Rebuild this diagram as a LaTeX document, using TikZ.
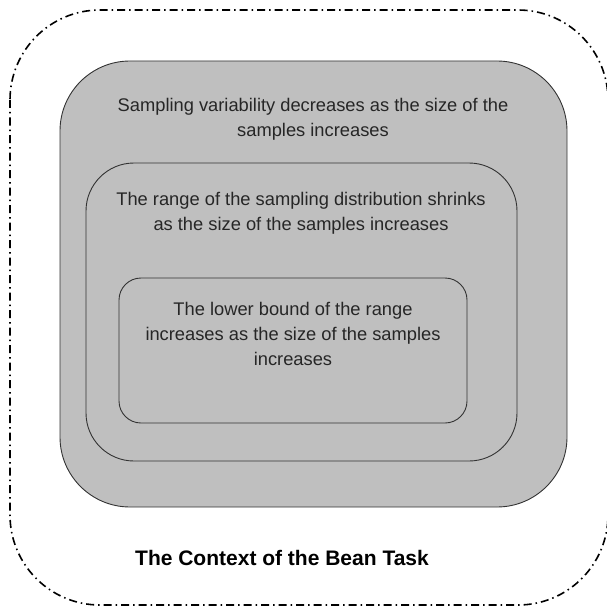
\documentclass[tikz,border=0pt]{standalone}
\usepackage{fontspec}
\setmainfont{Liberation Sans}
\begin{document}
\begin{tikzpicture}[x=1pt,y=-1pt,
  box/.style={draw=black!80, line width=0.9pt},
  txt/.style={align=center, text=black!85, font=\fontsize{18.3}{25}\selectfont, inner sep=0pt},
  ]
\useasboundingbox (0,0) rectangle (606,607);
% outer context
\draw[line width=1.6pt, dash pattern=on 8pt off 4pt on 1.5pt off 4pt, rounded corners=90pt]
  (10,10) rectangle (608,605);
% boxes
\draw[box, fill=black!25, rounded corners=70pt] (60,61) rectangle (567,507);
\draw[box, rounded corners=48pt] (86,163) rectangle (517,461);
\draw[box, rounded corners=22pt] (119,278) rectangle (467,423);
% texts
\node[txt] (t1) at (313,119.5) {Sampling variability decreases as the size of the\\samples increases};
\node[txt] (t2) at (301,213) {The range of the sampling distribution shrinks\\as the size of the samples increases};
\node[txt] (t3) at (293,333.5) {The lower bound of the range\\increases as the size of the samples\\increases};
\node[font=\bfseries\fontsize{21}{24}\selectfont, inner sep=0pt] (title) at (282,558) {The Context of the Bean Task};
\end{tikzpicture}
\end{document}
